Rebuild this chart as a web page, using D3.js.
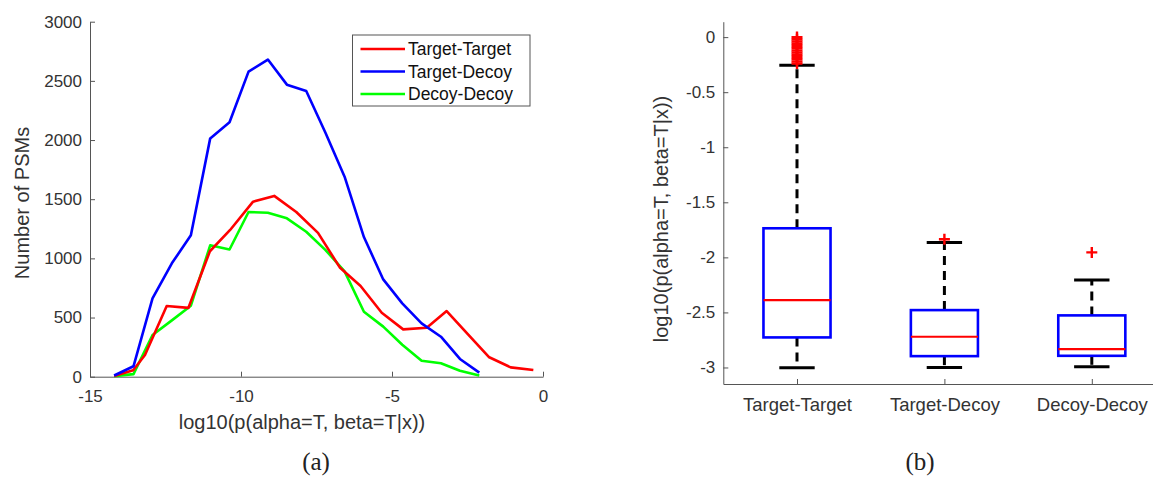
<!DOCTYPE html>
<html>
<head>
<meta charset="utf-8">
<script src="https://cdn.jsdelivr.net/npm/d3@7"></script>
<style>
  html, body { margin: 0; padding: 0; background: #fff; }
  svg { display: block; }
  .tick text { font-family: "Liberation Sans", Arial, sans-serif; font-size: 17px; fill: #333; }
  .cat .tick text { font-size: 18.5px; }
</style>
</head>
<body>
<svg id="svg" width="1153" height="479"></svg>
<script>
// (a) histogram polylines
const ttX = [-14.2, -13.57, -13.18, -12.46, -11.74, -11.03, -10.36, -9.6, -8.9, -8.17, -7.45, -6.72, -6.04, -5.34, -4.63, -3.85, -3.19, -2.49, -1.78, -1.07, -0.32];
const ttY = [5, 55, 183, 597, 582, 1060, 1240, 1479, 1528, 1392, 1215, 920, 767, 541, 400, 414, 555, 360, 164, 79, 57];
const binX = [-14.2, -13.56, -12.93, -12.29, -11.66, -11.02, -10.38, -9.75, -9.11, -8.48, -7.84, -7.2, -6.57, -5.93, -5.29, -4.66, -4.02, -3.38, -2.75, -2.11];
const tdY = [10, 88, 662, 958, 1195, 2014, 2150, 2578, 2680, 2468, 2414, 2060, 1690, 1180, 822, 620, 451, 338, 150, 34];
const ddY = [5, 22, 352, 476, 600, 1110, 1075, 1392, 1385, 1338, 1225, 1070, 890, 549, 423, 270, 135, 113, 51, 10];
const seriesNames = ['Target-Target', 'Target-Decoy', 'Decoy-Decoy'];
const seriesColors = ['#ff0000', '#0000ff', '#00ff00'];
const xTicksA = [-15, -10, -5, 0];
const yTicksA = [0, 500, 1000, 1500, 2000, 2500, 3000];

// (b) box plot statistics
const boxCats = ['Target-Target', 'Target-Decoy', 'Decoy-Decoy'];
const whiskLo = [-3.003, -3.0, -2.994];
const boxQ1 = [-2.727, -2.897, -2.894];
const boxMed = [-2.388, -2.721, -2.833];
const boxQ3 = [-1.736, -2.479, -2.527];
const whiskHi = [-0.255, -1.864, -2.206];
const outliers = [
  [0.0, -0.02, -0.04, -0.06, -0.08, -0.1, -0.12, -0.14, -0.16, -0.18, -0.2, -0.22, -0.24],
  [-1.836],
  [-1.955]
];
const yTicksB = [-3, -2.5, -2, -1.5, -1, -0.5, 0];

const svg = d3.select('#svg');
const FONT = '"Liberation Sans", Arial, sans-serif';
const AX = '#555';

// ---------- panel (a) ----------
const xa = d3.scaleLinear().domain([-15, 0]).range([90, 543]);
const ya = d3.scaleLinear().domain([0, 3000]).range([376.7, 21.7]);
const ga = svg.append('g');

const axA_x = ga.append('g').attr('transform', `translate(0,${ya(0)})`)
  .call(d3.axisBottom(xa).tickValues(xTicksA).tickFormat(d => String(d)).tickSizeInner(-5).tickSizeOuter(0).tickPadding(13));
const axA_y = ga.append('g').attr('transform', `translate(${xa(-15)},0)`)
  .call(d3.axisLeft(ya).tickValues(yTicksA).tickFormat(d => String(d)).tickSizeInner(-5).tickSizeOuter(0).tickPadding(8));
[axA_x, axA_y].forEach(a => { a.selectAll('path,line').attr('stroke', AX); a.selectAll('text').attr('font-family', null).attr('font-size', null); });

const seriesData = [
  ttX.map((x, i) => [x, ttY[i]]),
  binX.map((x, i) => [x, tdY[i]]),
  binX.map((x, i) => [x, ddY[i]])
];
const line = d3.line().x(d => xa(d[0])).y(d => ya(d[1]));
// draw green, red, blue order so blue sits on top as in the figure
[2, 0, 1].forEach(i => {
  ga.append('path').attr('d', line(seriesData[i])).attr('fill', 'none')
    .attr('stroke', seriesColors[i]).attr('stroke-width', 2.6).attr('stroke-linejoin', 'round');
});

ga.append('text').attr('x', 302).attr('y', 429).attr('text-anchor', 'middle')
  .attr('font-family', FONT).attr('font-size', 20).attr('fill', '#333')
  .text('log10(p(alpha=T, beta=T|x))');
ga.append('text').attr('transform', 'translate(28.5,203) rotate(-90)').attr('text-anchor', 'middle')
  .attr('font-family', FONT).attr('font-size', 20).attr('fill', '#333').text('Number of PSMs');

// legend
const lg = ga.append('g');
lg.append('rect').attr('x', 352.5).attr('y', 35).attr('width', 177.5).attr('height', 71)
  .attr('fill', '#fff').attr('stroke', AX).attr('stroke-width', 1);
seriesNames.forEach((n, i) => {
  const y = 49 + i * 22.5;
  lg.append('line').attr('x1', 360.5).attr('x2', 405).attr('y1', y).attr('y2', y)
    .attr('stroke', seriesColors[i]).attr('stroke-width', 2.6);
  lg.append('text').attr('x', 408).attr('y', y).attr('dy', '0.35em')
    .attr('font-family', FONT).attr('font-size', 17.5).attr('fill', '#111').text(n);
});

svg.append('text').attr('x', 316).attr('y', 470).attr('text-anchor', 'middle')
  .attr('font-family', '"Liberation Serif", "DejaVu Serif", serif').attr('font-size', 25).attr('fill', '#222').text('(a)');

// ---------- panel (b) ----------
const xb = d3.scalePoint().domain(boxCats).range([723.3, 1165.5]).padding(0.5);
const yb = d3.scaleLinear().domain([-3.15, 0.14]).range([384, 21.7]);
const gb = svg.append('g');

const axB_x = gb.append('g').attr('class', 'cat').attr('transform', `translate(0,${yb(-3.15)})`)
  .call(d3.axisBottom(xb).tickSizeInner(-5).tickSizeOuter(0).tickPadding(14));
const axB_y = gb.append('g').attr('transform', `translate(${xb.range()[0]},0)`)
  .call(d3.axisLeft(yb).tickValues(yTicksB).tickFormat(d => String(d)).tickSizeInner(-5).tickSizeOuter(0).tickPadding(8));
[axB_x, axB_y].forEach(a => { a.selectAll('path,line').attr('stroke', AX); a.selectAll('text').attr('font-family', null).attr('font-size', null); });

const step = xb.step(), bw = step * 0.455, cw = step * 0.24;
boxCats.forEach((c, i) => {
  const cx = xb(c), g = gb.append('g');
  // dashed whiskers
  g.append('line').attr('x1', cx).attr('x2', cx).attr('y1', yb(boxQ3[i])).attr('y2', yb(whiskHi[i]))
    .attr('stroke', '#000').attr('stroke-width', 3).attr('stroke-dasharray', '9,6');
  g.append('line').attr('x1', cx).attr('x2', cx).attr('y1', yb(boxQ1[i])).attr('y2', yb(whiskLo[i]))
    .attr('stroke', '#000').attr('stroke-width', 3).attr('stroke-dasharray', '9,6');
  [whiskHi[i], whiskLo[i]].forEach(v => {
    g.append('line').attr('x1', cx - cw / 2).attr('x2', cx + cw / 2).attr('y1', yb(v)).attr('y2', yb(v))
      .attr('stroke', '#000').attr('stroke-width', 3);
  });
  g.append('rect').attr('x', cx - bw / 2).attr('y', yb(boxQ3[i])).attr('width', bw)
    .attr('height', yb(boxQ1[i]) - yb(boxQ3[i])).attr('fill', 'none').attr('stroke', '#0000ff').attr('stroke-width', 2.6);
  g.append('line').attr('x1', cx - bw / 2).attr('x2', cx + bw / 2).attr('y1', yb(boxMed[i])).attr('y2', yb(boxMed[i]))
    .attr('stroke', '#ff0000').attr('stroke-width', 2.2);
  outliers[i].forEach(v => {
    const y = yb(v), r = 5.5;
    g.append('path').attr('d', `M${cx - r},${y}H${cx + r}M${cx},${y - r}V${y + r}`)
      .attr('stroke', '#ff0000').attr('stroke-width', 2.4).attr('fill', 'none');
  });
});

gb.append('text').attr('transform', 'translate(668,219) rotate(-90)').attr('text-anchor', 'middle')
  .attr('font-family', FONT).attr('font-size', 20).attr('fill', '#333')
  .text('log10(p(alpha=T, beta=T|x))');

svg.append('text').attr('x', 920).attr('y', 470).attr('text-anchor', 'middle')
  .attr('font-family', '"Liberation Serif", "DejaVu Serif", serif').attr('font-size', 25).attr('fill', '#222').text('(b)');
</script>
</body>
</html>
